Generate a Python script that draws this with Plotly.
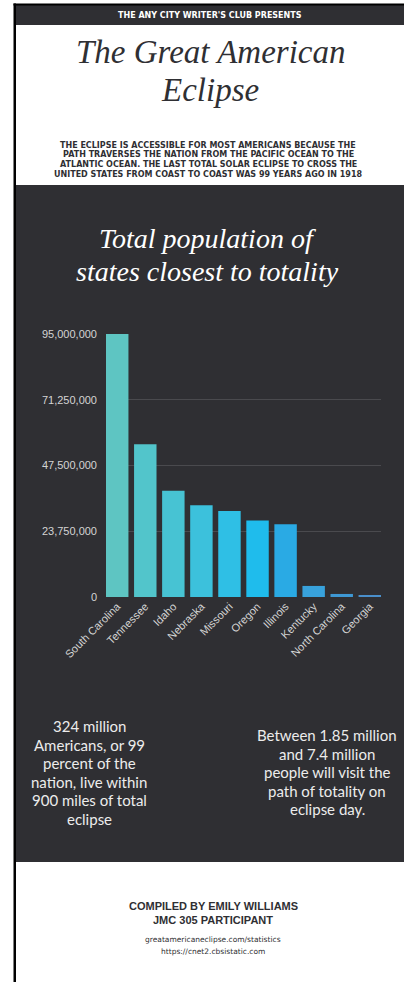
import plotly.graph_objects as go

# ---------------- data ----------------
states = ["South Carolina", "Tennessee", "Idaho", "Nebraska", "Missouri",
          "Oregon", "Illinois", "Kentucky", "North Carolina", "Georgia"]
population = [95000000, 55200000, 38400000, 33100000, 31100000,
              27600000, 26300000, 4000000, 1100000, 500000]
bar_colors = ["#5ec5c2", "#52c5cb", "#47c3d3", "#3cc1dc", "#2fbfe5",
              "#1fbcec", "#2aaae4", "#38a2dc", "#3e98d4", "#4a8fcb"]
y_ticks = [0, 23750000, 47500000, 71250000, 95000000]
y_tick_labels = ["0", "23,750,000", "47,500,000", "71,250,000", "95,000,000"]

header_text = "THE ANY CITY WRITER'S CLUB PRESENTS"
title_lines = ["The Great American", "Eclipse"]
intro_lines = [
    "THE ECLIPSE IS ACCESSIBLE FOR MOST AMERICANS BECAUSE THE",
    "PATH TRAVERSES THE NATION FROM THE PACIFIC OCEAN TO THE",
    "ATLANTIC OCEAN. THE LAST TOTAL SOLAR ECLIPSE TO CROSS THE",
    "UNITED STATES FROM COAST TO COAST WAS 99 YEARS AGO IN 1918",
]
chart_title_lines = ["Total population of", "states closest to totality"]
left_fact = ["324 million", "Americans, or 99", "percent of the",
             "nation, live within", "900 miles of total", "eclipse"]
right_fact = ["Between 1.85 million", "and 7.4 million", "people will visit the",
              "path of totality on", "eclipse day."]
credit_lines = ["COMPILED BY EMILY WILLIAMS", "JMC 305 PARTICIPANT"]
source_lines = ["greatamericaneclipse.com/statistics", "https://cnet2.cbsistatic.com"]

# ---------------- geometry ----------------
W, H = 405, 982
L, R, T, B = 106, 24, 334, 385
PW = W - L - R
PH = H - T - B


def px(x):
    return (x - L) / PW


def py(y):
    return (H - B - y) / PH


DARK = "#2f2f33"

fig = go.Figure()
fig.add_trace(go.Bar(
    x=states, y=population, marker=dict(color=bar_colors, line=dict(width=0)),
    hoverinfo="x+y"
))

shapes = [
    dict(type="rect", xref="paper", yref="paper", x0=px(15), x1=px(404), y0=py(4), y1=py(25),
         fillcolor=DARK, line=dict(width=0), layer="below"),
    dict(type="rect", xref="paper", yref="paper", x0=px(15), x1=px(404), y0=py(185), y1=py(862),
         fillcolor=DARK, line=dict(width=0), layer="below"),
    dict(type="rect", xref="paper", yref="paper", x0=px(13.5), x1=px(16), y0=py(3.5), y1=py(982),
         fillcolor="#000000", line=dict(width=0), layer="below"),
    dict(type="rect", xref="paper", yref="paper", x0=px(13.5), x1=px(404), y0=py(3.5), y1=py(5.5),
         fillcolor="#000000", line=dict(width=0), layer="below"),
]

ann = []


def text(x, y, s, size, color, family, bold=False, italic=False):
    ann.append(dict(
        x=px(x), y=py(y), xref="paper", yref="paper", text=s, showarrow=False,
        xanchor="center", yanchor="middle",
        font=dict(size=size, color=color, family=family,
                  weight="bold" if bold else "normal",
                  style="italic" if italic else "normal"),
    ))


text(210, 15, header_text, 8, "#ffffff", "DejaVu Sans", bold=True)
for i, s in enumerate(title_lines):
    text(210, 52 + i * 38, s, 33, "#2f2f33", "Liberation Serif", italic=True)
for i, s in enumerate(intro_lines):
    text(208, 145 + i * 9.8, s, 8, "#2f2f33", "DejaVu Sans", bold=True)
for i, s in enumerate(chart_title_lines):
    text(207, 238 + i * 33, s, 28, "#ffffff", "Liberation Serif", italic=True)
for i, s in enumerate(left_fact):
    text(89, 726 + i * 18.5, s, 15, "#ececec", "Lato")
for i, s in enumerate(right_fact):
    text(327, 735 + i * 18.5, s, 15, "#ececec", "Lato")
for i, s in enumerate(credit_lines):
    text(213, 906 + i * 13.5, s, 11, "#2f2f33", "Liberation Sans", bold=True)
for i, s in enumerate(source_lines):
    text(213, 939 + i * 12, s, 7.5, "#2f2f33", "DejaVu Sans")

fig.update_layout(
    width=W, height=H,
    margin=dict(l=L, r=R, t=T, b=B, autoexpand=False),
    paper_bgcolor="#ffffff",
    plot_bgcolor="rgba(0,0,0,0)",
    showlegend=False,
    bargap=0.2,
    shapes=shapes,
    annotations=ann,
    font=dict(family="Liberation Sans"),
)
fig.update_xaxes(
    range=[-0.4, 9.4], tickangle=-45, showgrid=False, zeroline=False, showline=False,
    ticks="", tickfont=dict(size=11, color="#d4d4d4", family="Liberation Sans"),
    automargin=False,
)
fig.update_yaxes(
    range=[0, 95000000], tickvals=y_ticks, ticktext=y_tick_labels,
    showgrid=True, gridcolor="#4a4a4e", gridwidth=1, zeroline=False, showline=False,
    ticks="", ticklabelstandoff=8,
    tickfont=dict(size=11, color="#d4d4d4", family="Liberation Sans"),
    automargin=False,
)

fig.write_html("out.html")
